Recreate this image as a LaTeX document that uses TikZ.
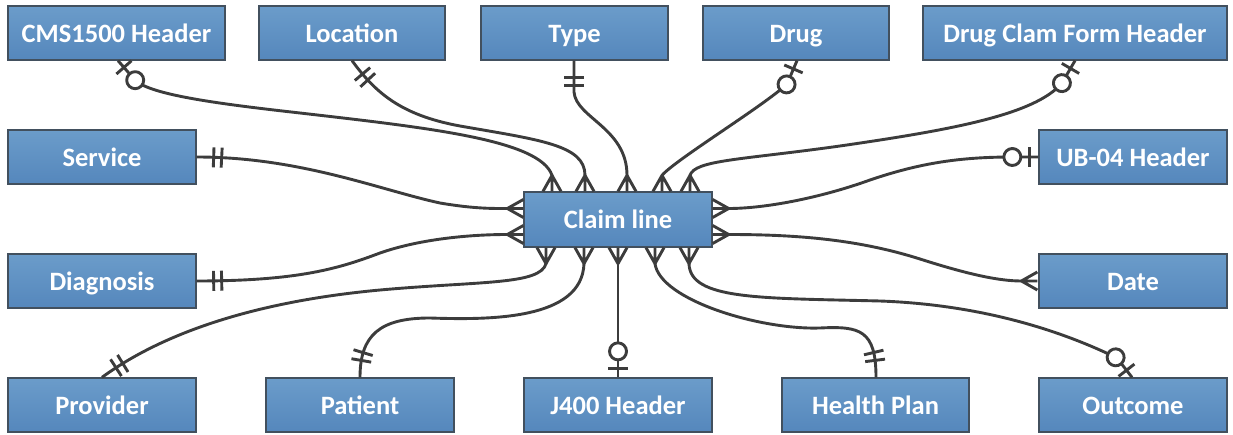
\documentclass[tikz,border=0pt]{standalone}
\usepackage{fontspec}
\setmainfont{Carlito}
\usetikzlibrary{decorations.markings}
\definecolor{boxtop}{HTML}{6B9CCA}
\definecolor{boxbot}{HTML}{5587BC}
\definecolor{boxedge}{HTML}{42505E}
\definecolor{linkc}{HTML}{3C3C3C}
\begin{document}
\begin{tikzpicture}[x=1pt,y=-1pt,
  ent/.style={draw=boxedge, line width=1.3pt, top color=boxtop, bottom color=boxbot,
    text=white, font=\fontsize{26.5}{30}\selectfont\bfseries,
    text height=20.5pt, text depth=2pt,
    minimum height=54pt, inner sep=0pt},
  link/.style={draw=linkc, line width=2.9pt, line join=round},
  onebars/.style={postaction={decorate, decoration={markings,
    mark=at position 17pt with {\draw[link] (0,-10) -- (0,10);},
    mark=at position 25pt with {\draw[link] (0,-10) -- (0,10);}}}},
  zeroone/.style={postaction={decorate, decoration={markings,
    mark=at position 9pt with {\draw[link] (0,-10) -- (0,10);},
    mark=at position 26pt with {\draw[link, fill=white] (0,0) circle[radius=8.5pt];}}}},
  pics/crowfoot/.style={code={
    \draw[link] (16,9) -- (0,0) -- (16,-9) (0,0) -- (16,0);}}
]
\useasboundingbox (0,0) rectangle (1233,435);

% entities
\node[ent, minimum width=217pt] (cms) at (116.5,33) {CMS1500 Header};
\node[ent, minimum width=186pt] (loc) at (352,33) {Location};
\node[ent, minimum width=187pt] (typ) at (574.5,33) {Type};
\node[ent, minimum width=186pt] (drg) at (796,33) {Drug};
\node[ent, minimum width=304pt] (dcf) at (1075,33) {Drug Clam Form Header};
\node[ent, minimum width=188pt] (svc) at (102,157) {Service};
\node[ent, minimum width=188pt] (ub) at (1133,157) {UB-04 Header};
\node[ent, minimum width=188pt] (dia) at (102,281) {Diagnosis};
\node[ent, minimum width=188pt] (dat) at (1133,281) {Date};
\node[ent, minimum width=188pt] (prv) at (102,405) {Provider};
\node[ent, minimum width=188pt] (pat) at (360,405) {Patient};
\node[ent, minimum width=188pt] (j4) at (618,405) {J400 Header};
\node[ent, minimum width=187pt] (hp) at (875.5,405) {Health Plan};
\node[ent, minimum width=188pt] (out) at (1133,405) {Outcome};
\node[ent, minimum width=188pt, minimum height=55pt] (cl) at (618,219.5) {Claim line};

% attachment points on the entities
\coordinate (cms-e) at ([xshift=1.5pt]cms.south);
\coordinate (loc-e) at (loc.south);
\coordinate (typ-e) at ([xshift=-0.5pt]typ.south);
\coordinate (drg-e) at ([xshift=1pt]drg.south);
\coordinate (dcf-e) at (dcf.south);
\coordinate (svc-e) at (svc.east);
\coordinate (ub-e) at (ub.west);
\coordinate (dia-e) at (dia.east);
\coordinate (dat-a) at ([xshift=-17pt]dat.west);
\coordinate (prv-e) at (prv.north);
\coordinate (pat-e) at (pat.north);
\coordinate (j4-e) at (j4.north);
\coordinate (hp-e) at ([xshift=0.5pt]hp.north);
\coordinate (out-e) at ([xshift=-1pt]out.north);

% crow's-foot apexes around the claim line
\coordinate (cl-t1) at ([xshift=-66pt,yshift=16pt]cl.north);
\coordinate (cl-t2) at ([xshift=-33pt,yshift=16pt]cl.north);
\coordinate (cl-t3) at ([xshift=9pt,yshift=16pt]cl.north);
\coordinate (cl-t4) at ([xshift=44pt,yshift=16pt]cl.north);
\coordinate (cl-t5) at ([xshift=72pt,yshift=16pt]cl.north);
\coordinate (cl-l1) at ([xshift=-16pt,yshift=11pt]cl.west);
\coordinate (cl-l2) at ([xshift=-16pt,yshift=-15pt]cl.west);
\coordinate (cl-r1) at ([xshift=16pt,yshift=11pt]cl.east);
\coordinate (cl-r2) at ([xshift=16pt,yshift=-15pt]cl.east);
\coordinate (cl-b1) at ([xshift=-72pt,yshift=-16pt]cl.south);
\coordinate (cl-b2) at ([xshift=-34pt,yshift=-16pt]cl.south);
\coordinate (cl-b3) at ([yshift=-16pt]cl.south);
\coordinate (cl-b4) at ([xshift=37pt,yshift=-16pt]cl.south);
\coordinate (cl-b5) at ([xshift=71pt,yshift=-16pt]cl.south);

\foreach \c in {t1,t2,t3,t4,t5} {\pic[rotate=-90] at (cl-\c) {crowfoot};}
\foreach \c in {b1,b2,b3,b4,b5} {\pic[rotate=90] at (cl-\c) {crowfoot};}
\foreach \c in {l1,l2} {\pic at (cl-\c) {crowfoot};}
\foreach \c in {r1,r2} {\pic[rotate=180] at (cl-\c) {crowfoot};}
\pic at (dat-a) {crowfoot};

% relationships
\draw[link, zeroone] (cms-e) -- (135,80) .. controls (150,95) and (220,104) .. (300,113)
  .. controls (430,128) and (540,140) .. (cl-t1);
\draw[link, onebars] (loc-e) .. controls (375,92) and (400,115) .. (460,126)
  .. controls (540,140) and (585,145) .. (cl-t2);
\draw[link, onebars] (typ-e) -- (574,92) .. controls (576,118) and (627,128) .. (cl-t3);
\draw[link, zeroone] (drg-e) -- (787,84) .. controls (765,105) and (675,160) .. (cl-t4);
\draw[link, zeroone] (dcf-e) -- (1062,83) .. controls (1035,115) and (950,130) .. (840,146)
  .. controls (740,160) and (695,160) .. (cl-t5);
\draw[link, zeroone] (ub-e) -- (1013,157) .. controls (960,157) and (920,163) .. (870,180)
  .. controls (820,198) and (765,208.5) .. (cl-r1);
\draw[link, onebars] (svc-e) .. controls (300,157) and (380,190) .. (440,203)
  .. controls (475,209) and (495,208.5) .. (cl-l1);
\draw[link, onebars] (dia-e) .. controls (300,281) and (340,268) .. (380,253)
  .. controls (420,239) and (470,234.5) .. (cl-l2);
\draw[link, onebars] (prv-e) .. controls (160,335) and (250,302) .. (380,290)
  .. controls (480,281) and (540,285) .. (cl-b1);
\draw[link, onebars] (pat-e) .. controls (360,335) and (380,318) .. (430,318)
  .. controls (490,320) and (582,320) .. (cl-b2);
\draw[link, zeroone] (j4-e) -- (cl-b3);
\draw[link, onebars] (hp-e) .. controls (876,330) and (860,326) .. (820,328)
  .. controls (760,330) and (660,300) .. (cl-b4);
\draw[link, zeroone] (out-e) -- (1117,358) .. controls (1070,335) and (990,305) .. (880,301)
  .. controls (760,298) and (690,300) .. (cl-b5);
\draw[link] (cl-r2) .. controls (800,234.5) and (860,240) .. (920,259)
  .. controls (970,275) and (1000,281) .. (dat-a);
\end{tikzpicture}
\end{document}
